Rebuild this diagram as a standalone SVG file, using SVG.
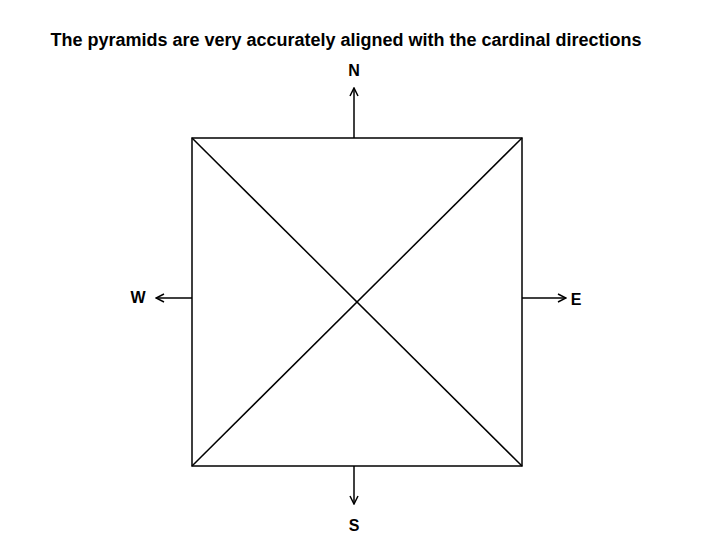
<svg xmlns="http://www.w3.org/2000/svg" width="720" height="540" viewBox="0 0 720 540">
<style>
.t{font-family:"Liberation Sans",Arial,sans-serif;font-weight:bold;fill:#000}
.l{stroke:#000;stroke-width:1.5;fill:none}
</style>
<defs>
<marker id="ah" markerWidth="10" markerHeight="10" refX="9" refY="5" orient="auto" markerUnits="userSpaceOnUse">
<path d="M1,1 L9,5 L1,9" fill="none" stroke="#000" stroke-width="1.5"/>
</marker>
</defs>
<rect width="720" height="540" fill="#fff"/>
<text class="t" x="346" y="46" font-size="18" text-anchor="middle">The pyramids are very accurately aligned with the cardinal directions</text>
<g id="pyramid">
<rect class="l" x="192" y="138" width="330" height="328"/>
<line class="l" x1="192" y1="138" x2="522" y2="466"/>
<line class="l" x1="522" y1="138" x2="192" y2="466"/>
</g>
<g id="connectors">
<line class="l" x1="354" y1="138" x2="354" y2="88" marker-end="url(#ah)"/>
<line class="l" x1="192" y1="298" x2="156" y2="298" marker-end="url(#ah)"/>
<line class="l" x1="522" y1="298" x2="566" y2="298" marker-end="url(#ah)"/>
<line class="l" x1="354" y1="466" x2="354" y2="504" marker-end="url(#ah)"/>
</g>
<g id="N"><text class="t" x="354" y="76" font-size="16" text-anchor="middle">N</text></g>
<g id="W"><text class="t" x="138" y="303" font-size="16" text-anchor="middle">W</text></g>
<g id="E"><text class="t" x="576" y="305" font-size="16" text-anchor="middle">E</text></g>
<g id="S"><text class="t" x="354" y="531" font-size="16" text-anchor="middle">S</text></g>
</svg>
